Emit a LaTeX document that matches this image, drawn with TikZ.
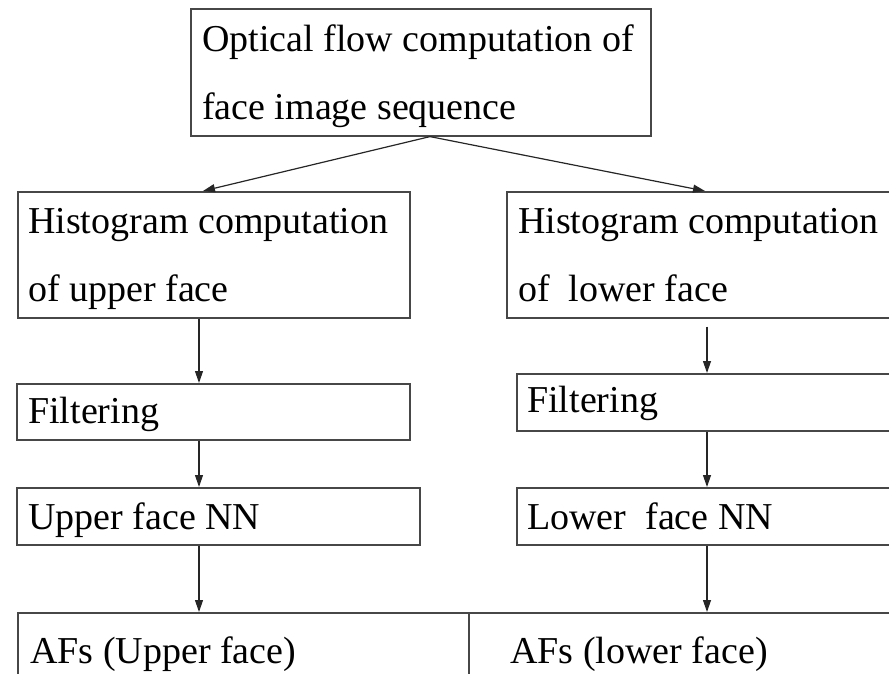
\documentclass[tikz,border=0pt]{standalone}
\usepackage{fontspec}
\setmainfont{Liberation Serif}
\usetikzlibrary{arrows.meta}
\tikzset{
  box/.style={draw=black!72, line width=1.6pt, inner sep=0pt, anchor=north west},
  lbl/.style={anchor=base west, inner sep=0pt, font=\fontsize{38}{46}\selectfont},
  arr/.style={draw=black!85, line width=1.2pt, -{Triangle[length=12pt,width=8pt]}},
}
\begin{document}
\begin{tikzpicture}[x=1pt, y=-1pt]
  \useasboundingbox (0,0) rectangle (889,674);
  \clip (0,0) rectangle (889,674);

  % boxes
  \node[box, minimum width=460pt, minimum height=127pt] (top) at (190,8) {};
  \node[box, minimum width=392pt, minimum height=126pt] (hl) at (17,191) {};
  \node[box, minimum width=400pt, minimum height=126pt] (hr) at (506,191) {};
  \node[box, minimum width=393pt, minimum height=56pt] (fl) at (16,383) {};
  \node[box, minimum width=400pt, minimum height=57pt] (fr) at (516,373) {};
  \node[box, minimum width=403pt, minimum height=57pt] (nl) at (16,487) {};
  \node[box, minimum width=400pt, minimum height=57pt] (nr) at (516,487) {};
  \node[box, minimum width=451pt, minimum height=100pt] (afl) at (17,612) {};
  \node[box, minimum width=440pt, minimum height=100pt] (afr) at (468,612) {};

  % labels
  \node[lbl] (t1) at (202,52) {Optical flow computation of};
  \node[lbl] (t2) at (202,120) {face image sequence};
  \node[lbl] (hl1) at (28,233) {Histogram computation};
  \node[lbl] (hl2) at (28,301) {of upper face};
  \node[lbl] (hr1) at (518,233) {Histogram computation};
  \node[lbl] (hr2) at (518,301) {of\ \ lower face};
  \node[lbl] (fl1) at (28,423) {Filtering};
  \node[lbl] (fr1) at (527,412) {Filtering};
  \node[lbl] (nl1) at (28,529) {Upper face NN};
  \node[lbl] (nr1) at (527,529) {Lower\ \ face NN};
  \node[lbl] (al1) at (30,663) {AFs (Upper face)};
  \node[lbl] (ar1) at (510,663) {AFs (lower face)};

  % column guides
  \coordinate (src) at (430,0);
  \coordinate (cl) at (199,0);
  \coordinate (cr) at (707,0);

  % connectors
  \draw[arr] (src |- top.south) -- ([xshift=186pt]hl.north west);
  \draw[arr] (src |- top.south) -- ([xshift=199pt]hr.north west);
  \draw[arr] (cl |- hl.south) -- (cl |- fl.north);
  \draw[arr] (cl |- fl.south) -- (cl |- nl.north);
  \draw[arr] (cl |- nl.south) -- (cl |- afl.north);
  \draw[arr] ([yshift=-8pt]cr |- hr.south) -- (cr |- fr.north);
  \draw[arr] (cr |- fr.south) -- (cr |- nr.north);
  \draw[arr] (cr |- nr.south) -- (cr |- afr.north);
\end{tikzpicture}
\end{document}
